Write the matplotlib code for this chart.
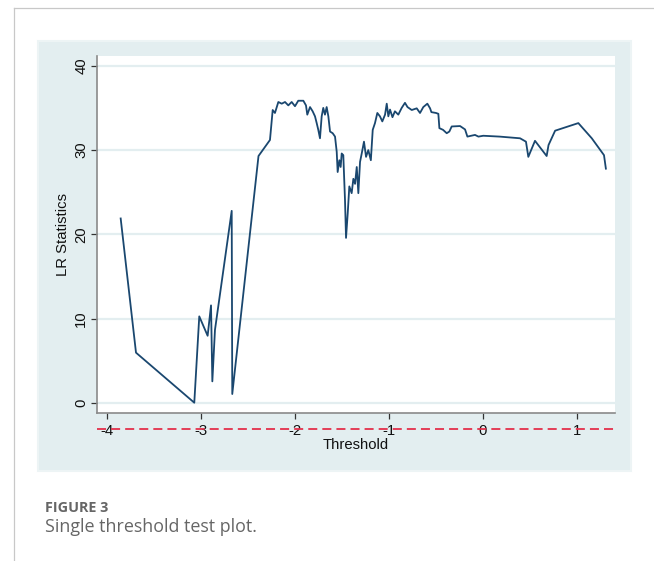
import matplotlib
matplotlib.use("Agg")
import matplotlib.pyplot as plt
from matplotlib.patches import Rectangle
from matplotlib.lines import Line2D

# ---- data ----
threshold = [-3.851, -3.688, -3.068, -3.015, -2.926, -2.89, -2.876, -2.848, -2.67, -2.664,
             -2.385, -2.263, -2.234, -2.21, -2.174, -2.138, -2.103, -2.068, -2.032, -1.997,
             -1.962, -1.908, -1.88, -1.866, -1.837, -1.809, -1.784, -1.766, -1.749, -1.731,
             -1.713, -1.696, -1.678, -1.66, -1.642, -1.624, -1.596, -1.571, -1.553, -1.543,
             -1.525, -1.511, -1.5, -1.483, -1.465, -1.454, -1.436, -1.419, -1.394, -1.376,
             -1.358, -1.34, -1.323, -1.305, -1.287, -1.263, -1.241, -1.217, -1.19, -1.17,
             -1.146, -1.121, -1.093, -1.068, -1.039, -1.021, -1.004, -0.986, -0.96, -0.934,
             -0.898, -0.862, -0.827, -0.80, -0.755, -0.702, -0.667, -0.632, -0.589, -0.56,
             -0.546, -0.497, -0.472, -0.461, -0.422, -0.383, -0.355, -0.33, -0.241, -0.188,
             -0.163, -0.082, -0.046, 0.006, 0.18, 0.397, 0.46, 0.485, 0.556, 0.68,
             0.70, 0.77, 1.017, 1.16, 1.29, 1.31]
lr_stat = [21.9, 6.0, 0.07, 10.3, 8.0, 11.6, 2.6, 8.7, 22.8, 1.1,
           29.3, 31.2, 34.75, 34.4, 35.7, 35.5, 35.7, 35.3, 35.7, 35.2,
           35.85, 35.85, 35.3, 34.2, 35.1, 34.6, 34.0, 33.2, 32.4, 31.4,
           34.0, 35.0, 34.2, 35.1, 34.0, 32.2, 32.0, 31.6, 29.8, 27.4,
           28.8, 28.0, 29.6, 29.4, 24.1, 19.6, 22.5, 25.7, 24.9, 26.6,
           26.0, 28.0, 24.9, 28.6, 29.6, 31.0, 29.2, 30.0, 28.8, 32.4,
           33.2, 34.4, 34.0, 33.4, 34.2, 35.5, 34.0, 34.8, 33.9, 34.6,
           34.2, 35.0, 35.6, 35.1, 34.75, 34.95, 34.4, 35.1, 35.5, 34.95,
           34.5, 34.4, 34.3, 32.6, 32.4, 32.0, 32.2, 32.8, 32.85, 32.45,
           31.6, 31.8, 31.6, 31.7, 31.6, 31.4, 31.0, 29.2, 31.1, 29.3,
           30.6, 32.3, 33.2, 31.4, 29.4, 27.8]
x_ticks = [-4, -3, -2, -1, 0, 1]
y_ticks = [0, 10, 20, 30, 40]
x_label = "Threshold"
y_label = "LR Statistics"
caption_title = "FIGURE 3"
caption_text = "Single threshold test plot."

W, H = 654, 561
fig = plt.figure(figsize=(W / 100, H / 100), dpi=100)
fig.patch.set_facecolor("white")

def fx(px):
    return px / W

def fy(py):
    return (H - py) / H

# page frame lines
fig.add_artist(Line2D([fx(13.5), fx(13.5)], [fy(8), fy(561)], color="#c8c8c8", lw=0.9,
                      transform=fig.transFigure))
fig.add_artist(Line2D([fx(13.5), fx(654)], [fy(8), fy(8)], color="#c8c8c8", lw=0.9,
                      transform=fig.transFigure))

# graph region (Stata-like)
fig.add_artist(Rectangle((fx(38), fy(471)), fx(631) - fx(38), fy(41) - fy(471),
                         transform=fig.transFigure, facecolor="#e3eef0", edgecolor="#edf4f5",
                         lw=1.5, zorder=0))

ax = fig.add_axes([fx(96.7), fy(413), fx(615) - fx(96.7), fy(56) - fy(413)])
ax.set_facecolor("white")
ax.plot(threshold, lr_stat, color="#1a476f", lw=1.3, zorder=3)

ax.set_xlim(-4.106, 1.407)
ax.set_ylim(-1.15, 41.15)
ax.set_xticks(x_ticks)
ax.set_yticks(y_ticks)
ax.set_xticklabels([str(t) for t in x_ticks])
ax.set_yticklabels([str(t) for t in y_ticks], rotation=90, va="center")

font = ["Liberation Sans", "DejaVu Sans"]
for lab in ax.get_xticklabels() + ax.get_yticklabels():
    lab.set_family(font)
    lab.set_fontsize(10.7)
    lab.set_color("#111111")

ax.tick_params(axis="x", direction="out", length=4, width=0.9, color="#333333", pad=4)
ax.tick_params(axis="y", direction="out", length=4.5, width=0.9, color="#333333", pad=1.5)

ax.grid(axis="y", color="#e3eef0", lw=1.6, zorder=1)
ax.set_axisbelow(True)

for s in ["top", "right"]:
    ax.spines[s].set_visible(False)
for s in ["left", "bottom"]:
    ax.spines[s].set_color("#8a8a8a")
    ax.spines[s].set_linewidth(1.2)

ax.set_xlabel(x_label, family=font, fontsize=10.7, color="#111111", labelpad=0)
ax.set_ylabel(y_label, family=font, fontsize=10.7, color="#111111", labelpad=3)

# red dashed reference line below axis
ax.add_line(Line2D([0, 1], [-0.0448, -0.0448], transform=ax.transAxes, color="#e4304c",
                   lw=1.3, dashes=(5.0, 2.8), clip_on=False, zorder=5))

# caption
fig.text(fx(45), fy(512.3), caption_title, family=["Open Sans", "DejaVu Sans"], fontweight="bold",
         fontsize=10.4, color="#666666", va="baseline", ha="left")
fig.text(fx(45), fy(531.7), caption_text, family=["Open Sans", "DejaVu Sans"],
         fontsize=12.9, color="#666666", va="baseline", ha="left")

fig.savefig("out.png", dpi=100, facecolor="white")
